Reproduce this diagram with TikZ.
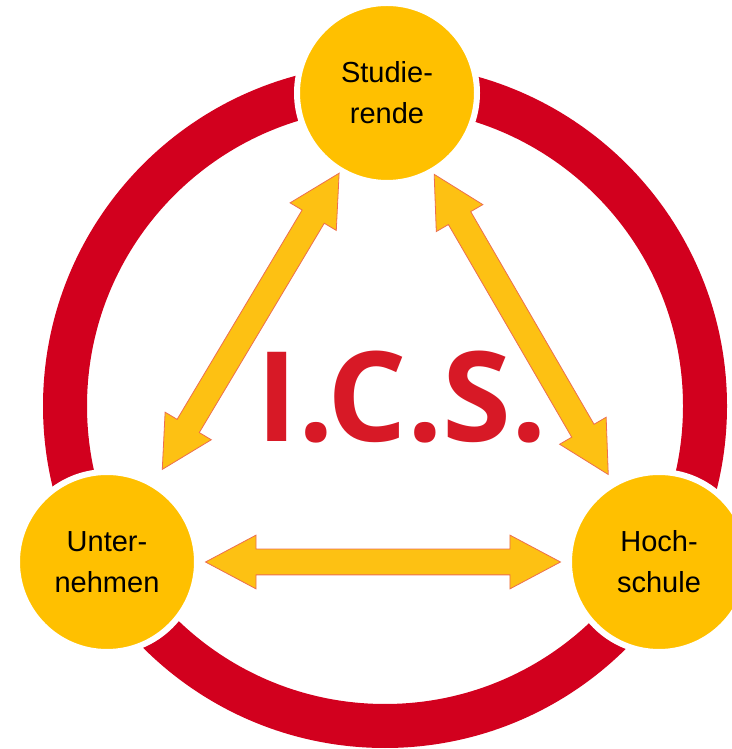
\documentclass[tikz,border=0pt]{standalone}
\usepackage{fontspec}
\setmainfont{Liberation Sans}
\newfontfamily\icsfont{Open Sans}
\usetikzlibrary{shapes.arrows}

\definecolor{ringred}{RGB}{210,0,30}
\definecolor{icsred}{RGB}{215,25,38}
\definecolor{gold}{RGB}{255,192,0}
\definecolor{arrowgold}{RGB}{253,193,19}
\definecolor{arrowline}{RGB}{236,110,80}

\tikzset{
  party/.style={circle, fill=gold, draw=white, line width=6pt, minimum size=180pt,
    inner sep=0pt, align=center, font=\fontsize{29}{41}\selectfont},
  link/.style={double arrow, fill=arrowgold, draw=arrowline, line width=0.8pt,
    inner xsep=0pt, inner ysep=12.5pt, double arrow head extend=14pt,
    double arrow tip angle=56, sloped},
}

\begin{document}
\begin{tikzpicture}[x=1pt,y=1pt]
\useasboundingbox (0,0) rectangle (731,749);

\draw[ringred, line width=44pt] (385,343) circle (320pt); %ring

    \node[party] (stud) at (387,656) {Studie-\\rende};
    \node[party] (unt) at (107,187) {Unter-\\nehmen};
    \node[party] (hoch) at (659,187) {Hoch-\\schule};

% arrows between the three
\path (stud) -- node[link, pos=0.48, minimum height=345pt] (a1) {} (unt);
\path (stud) -- node[link, pos=0.49, minimum height=347pt] (a2) {} (hoch);
\path (unt) -- node[link, pos=0.5, minimum height=355pt] (a3) {} (hoch);

\node[font=\icsfont\bfseries\fontsize{125}{125}\selectfont, text=icsred, anchor=base] (ics) at (402,307) {I.C.S.};
\end{tikzpicture}
\end{document}
